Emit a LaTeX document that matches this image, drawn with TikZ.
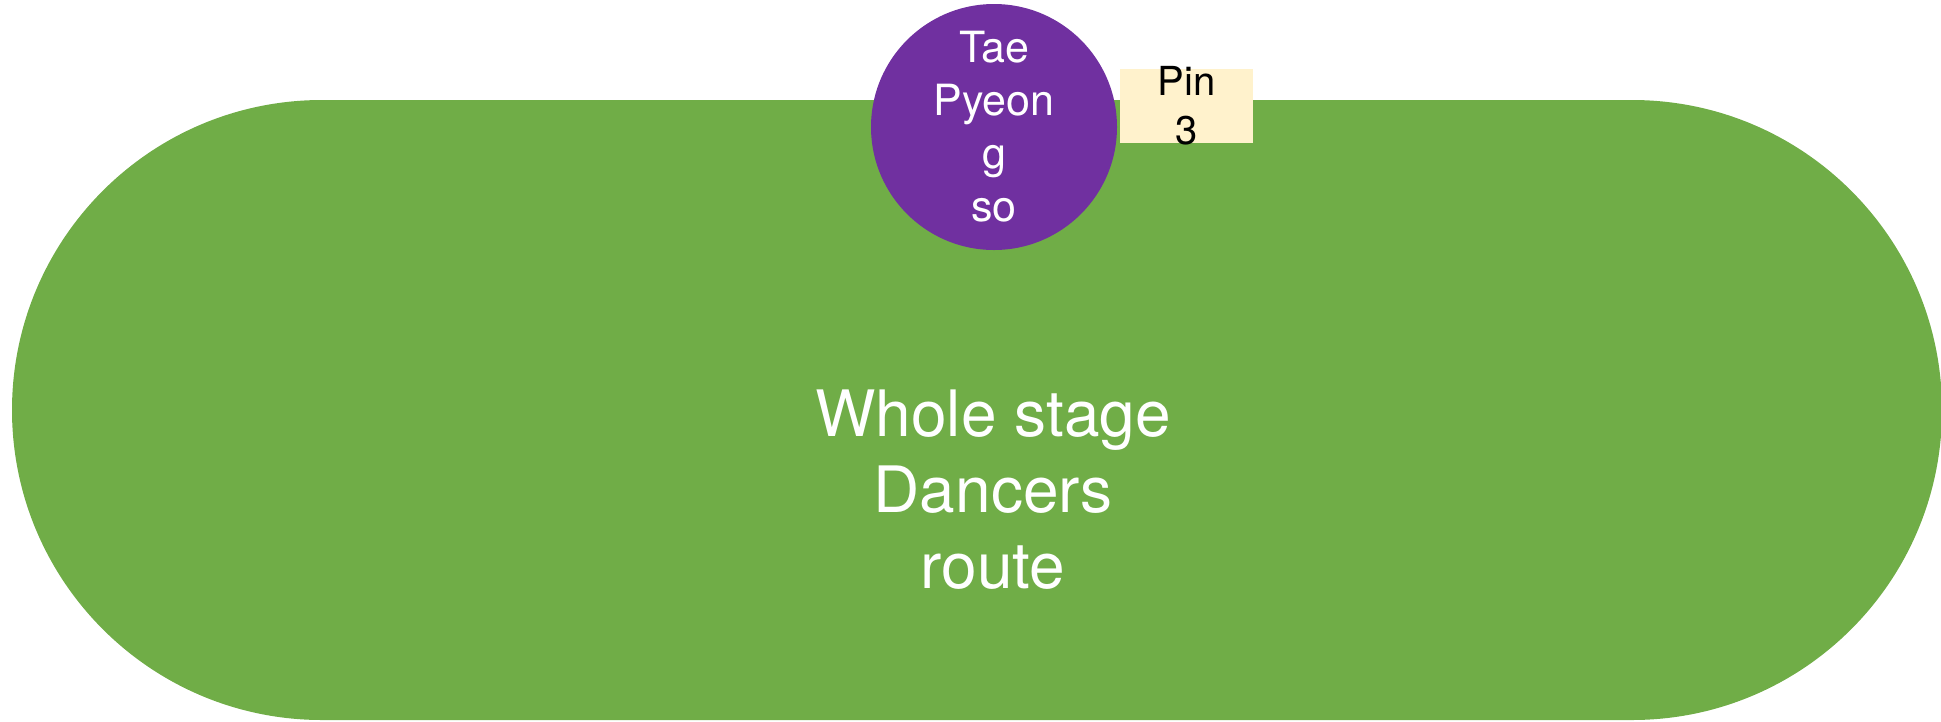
\documentclass[tikz,border=0pt]{standalone}
\usepackage{fontspec}
\setmainfont{TeX Gyre Heros}
\definecolor{stagegreen}{HTML}{70AD47}
\definecolor{dancerpurple}{HTML}{7030A0}
\definecolor{pinyellow}{HTML}{FFF2CC}
\tikzset{
  stagetextstyle/.style={text=white, align=center, inner sep=0pt,
    font=\fontsize{64pt}{76pt}\selectfont},
  dancerstyle/.style={circle, fill=dancerpurple, minimum size=246pt, inner sep=0pt,
    text=white, align=center, font=\fontsize{43pt}{53pt}\selectfont},
  pinboxstyle/.style={rectangle, fill=pinyellow, draw=none, inner sep=0pt,
    minimum width=133pt, minimum height=74pt},
  pintextstyle/.style={text=black, align=center, inner sep=0pt,
    font=\fontsize{40pt}{49pt}\selectfont}
}
\begin{document}
\begin{tikzpicture}[x=1pt,y=-1pt]
\useasboundingbox (0,0) rectangle (1941,721);
% whole stage
\fill[stagegreen, rounded corners=310pt] (12,100) rectangle (1942,720);
\node[stagetextstyle] (stagetext) at (993,489.5) {Whole stage\\Dancers\\route};
% dancer
\node[dancerstyle] (taepyeong) at (994,127) {Tae\\Pyeon\\g\\so};
% pin
\node[pinboxstyle] (pin) at (1186.5,106) {};
\node[pintextstyle] (pinlabel) at (pin.center) {Pin\\3};
\end{tikzpicture}
\end{document}
